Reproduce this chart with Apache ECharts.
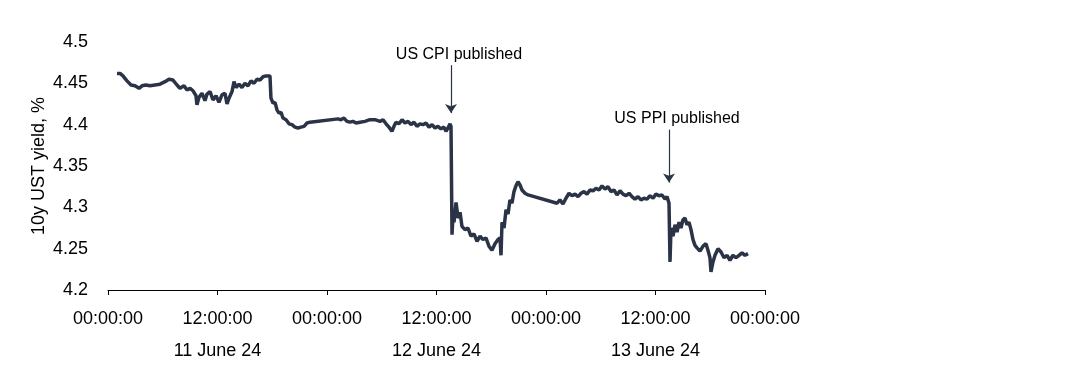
<!DOCTYPE html>
<html>
<head>
<meta charset="utf-8">
<script src="https://cdn.jsdelivr.net/npm/echarts@6/dist/echarts.min.js"></script>
<style>
  html, body { margin: 0; padding: 0; background: #fff; }
  #chart { width: 1088px; height: 380px; }
</style>
</head>
<body>
<div id="chart"></div>
<script>
  // hours since 00:00 on 11 June 24
  var hours = [
    0.99, 1.32, 1.64, 2.08, 2.52, 2.96, 3.40, 3.73, 4.16, 4.60, 5.15, 5.70, 6.25, 6.68, 7.12, 7.56,
    7.89, 8.33, 8.66, 8.99, 9.32, 9.64, 9.75, 9.97, 10.30, 10.63, 10.85, 11.18, 11.51, 11.84, 12.16,
    12.49, 12.82, 13.04, 13.26, 13.59, 13.81, 14.03, 14.36, 14.68, 15.01, 15.34, 15.67, 16.00, 16.33,
    16.66, 16.99, 17.32, 17.53, 17.75, 17.86, 18.08, 18.30, 18.52, 18.74, 18.96, 19.18, 19.51, 19.84,
    20.16, 20.49, 20.82, 21.15, 21.48, 21.81, 22.14,
    25.21, 25.53, 25.86, 26.19, 26.52, 26.85, 27.18, 27.62, 28.16, 28.71, 29.26, 29.81, 30.14, 30.47,
    30.79, 31.12, 31.34, 31.56, 31.89, 32.22, 32.55, 32.88, 33.21, 33.53, 33.86, 34.19, 34.52, 34.85,
    35.18, 35.51, 35.84, 36.16, 36.49, 36.82, 37.04, 37.26, 37.48, 37.59, 37.70, 37.81, 37.92, 38.14,
    38.36, 38.58, 38.79, 39.12, 39.45, 39.78, 40.11, 40.44, 40.77, 41.10, 41.42, 41.75, 42.08, 42.41,
    42.74, 42.96, 43.07, 43.18, 43.40, 43.62, 43.84, 44.05, 44.27, 44.49, 44.71, 44.93, 45.15, 45.37,
    45.70, 46.03,
    49.21, 49.53, 49.86, 50.19, 50.52, 50.85, 51.18, 51.51, 51.84, 52.16, 52.49, 52.82, 53.15, 53.48,
    53.81, 54.14, 54.47, 54.79, 55.12, 55.45, 55.78, 56.11, 56.44, 56.77, 57.10, 57.42, 57.75, 58.08,
    58.41, 58.74, 59.07, 59.40, 59.73, 60.05, 60.38, 60.71, 61.04, 61.26, 61.48, 61.59, 61.70, 61.92,
    62.14, 62.36, 62.58, 62.79, 63.01, 63.23, 63.45, 63.67, 63.89, 64.11, 64.33, 64.55, 64.88, 65.21,
    65.53, 65.75, 65.97, 66.08, 66.30, 66.52, 66.85, 67.18, 67.51, 67.84, 68.16, 68.49, 68.82, 69.15,
    69.48, 69.81, 70.14
  ];
  var yields = [
    4.462, 4.462, 4.459, 4.453, 4.448, 4.447, 4.444, 4.447, 4.448, 4.447, 4.448, 4.449, 4.452, 4.455, 4.454, 4.448,
    4.444, 4.447, 4.442, 4.444, 4.441, 4.435, 4.424, 4.433, 4.438, 4.429, 4.437, 4.440, 4.430, 4.435, 4.427,
    4.436, 4.438, 4.425, 4.432, 4.440, 4.452, 4.445, 4.449, 4.445, 4.450, 4.447, 4.453, 4.450, 4.455,
    4.454, 4.458, 4.459, 4.461, 4.459, 4.432, 4.426, 4.427, 4.418, 4.414, 4.415, 4.408, 4.406, 4.401,
    4.400, 4.397, 4.396, 4.397, 4.398, 4.402, 4.403,
    4.407, 4.406, 4.408, 4.404, 4.403, 4.404, 4.402, 4.403, 4.404, 4.406, 4.406, 4.404, 4.406, 4.401,
    4.397, 4.392, 4.398, 4.403, 4.401, 4.406, 4.402, 4.404, 4.400, 4.403, 4.398, 4.401, 4.400, 4.402,
    4.397, 4.400, 4.396, 4.398, 4.395, 4.397, 4.392, 4.396, 4.401, 4.398, 4.267, 4.291, 4.282, 4.306,
    4.287, 4.294, 4.277, 4.273, 4.275, 4.265, 4.268, 4.259, 4.265, 4.261, 4.263, 4.253, 4.248, 4.256,
    4.261, 4.263, 4.242, 4.282, 4.275, 4.297, 4.292, 4.309, 4.305, 4.319, 4.326, 4.331, 4.327, 4.321,
    4.317, 4.315,
    4.305, 4.309, 4.304, 4.311, 4.317, 4.314, 4.316, 4.313, 4.317, 4.319, 4.316, 4.321, 4.320, 4.323,
    4.321, 4.326, 4.322, 4.325, 4.319, 4.321, 4.315, 4.320, 4.316, 4.314, 4.317, 4.313, 4.310, 4.313,
    4.309, 4.311, 4.310, 4.314, 4.311, 4.316, 4.314, 4.315, 4.310, 4.313, 4.305, 4.234, 4.275, 4.265,
    4.279, 4.270, 4.282, 4.275, 4.285, 4.287, 4.279, 4.282, 4.273, 4.261, 4.254, 4.251, 4.247, 4.253,
    4.256, 4.248, 4.239, 4.222, 4.234, 4.242, 4.250, 4.246, 4.239, 4.242, 4.236, 4.242, 4.239, 4.242,
    4.245, 4.242, 4.244
  ];
  var dayLabels = ['11 June 24', '12 June 24', '13 June 24'];
  // annotations: [hour, arrow top, arrow tip, text]
  var cpiNote = [37.59, 4.472, 4.414, 'US CPI published'];
  var ppiNote = [61.48, 4.394, 4.330, 'US PPI published'];

  var font = 'Liberation Sans, Arial, sans-serif';
  var seriesData = [];
  for (var i = 0; i < hours.length; i++) {
    seriesData.push([hours[i], yields[i]]);
  }

  function arrow(note) {
    return [
      { coord: [note[0], note[1]], symbol: 'none', label: { formatter: note[3] } },
      { coord: [note[0], note[2]], symbol: 'arrow' }
    ];
  }

  const chartObj = echarts.init(document.getElementById('chart'));
  const option = {
    animation: false,
    grid: { left: 108, right: 323, top: 42, bottom: 90 },
    xAxis: {
      type: 'value',
      min: 0,
      max: 72,
      interval: 12,
      splitLine: { show: false },
      axisLine: { show: true, lineStyle: { color: '#000', width: 1 } },
      axisTick: { show: true, length: 5, lineStyle: { color: '#000' } },
      axisLabel: {
        color: '#000',
        fontFamily: font,
        fontSize: 18,
        lineHeight: 32,
        margin: 13,
        formatter: function (v) {
          if (v % 24 === 0) return '00:00:00';
          return '12:00:00\n' + dayLabels[Math.floor(v / 24)];
        }
      }
    },
    yAxis: {
      type: 'value',
      min: 4.2,
      max: 4.5,
      interval: 0.05,
      name: '10y UST yield, %',
      nameLocation: 'middle',
      nameRotate: 90,
      nameGap: 60,
      nameMoveOverlap: false,
      nameTextStyle: { color: '#000', fontFamily: font, fontSize: 18 },
      splitLine: { show: false },
      axisLine: { show: false },
      axisTick: { show: false },
      axisLabel: {
        color: '#000',
        fontFamily: font,
        fontSize: 18,
        margin: 20,
        formatter: function (v) { return String(+v.toFixed(2)); }
      }
    },
    series: [{
      type: 'line',
      data: seriesData,
      showSymbol: false,
      lineStyle: { color: '#2b3447', width: 3.5 },
      markLine: {
        silent: true,
        symbolSize: 9,
        lineStyle: { color: '#2b3447', width: 1.2, type: 'solid' },
        label: {
          position: 'start',
          distance: 3,
          offset: [8, 0],
          color: '#000',
          fontFamily: font,
          fontSize: 16
        },
        data: [arrow(cpiNote), arrow(ppiNote)]
      }
    }]
  };
  chartObj.setOption(option, true);
</script>
</body>
</html>
